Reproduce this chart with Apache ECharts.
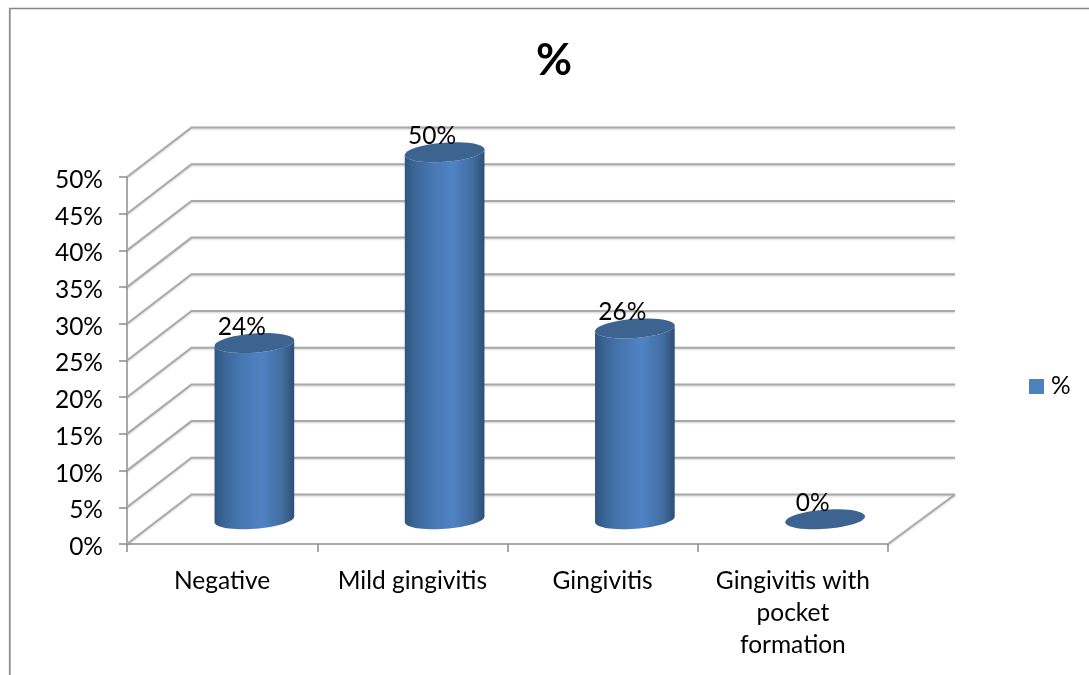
<!DOCTYPE html>
<html>
<head>
<meta charset="utf-8">
<style>html,body{margin:0;padding:0;background:#fff}#chart{width:1089px;height:675px}</style>
<script src="https://cdn.jsdelivr.net/npm/echarts@6/dist/echarts.min.js"></script>
</head>
<body>
<div id="chart"></div>
<script>
// Gingivitis status distribution, drawn as a pseudo-3D cylinder column chart.
const chartTitle = '%';
const seriesName = '%';
const categories = ['Negative', 'Mild gingivitis', 'Gingivitis', 'Gingivitis with\npocket\nformation'];
const percentValues = [24, 50, 26, 0];
const gridTicks = [0, 5, 10, 15, 20, 25, 30, 35, 40, 45, 50];

// Oblique projection of the box: how far the back wall sits from the front plane.
const depthX = 64.5;
const depthY = -49.5;
const backWallOverhang = 2.5;
const fontFamily = 'Lato';
const labelSize = 24.5;
const gridColor = '#a9a9a9';

// Outline of a slightly tilted ellipse at parameter t.
function ellipsePoint(cx, cy, a, b, t) {
  const tilt = -0.075;
  const x = a * Math.cos(t), y = b * Math.sin(t);
  return [cx + x * Math.cos(tilt) - y * Math.sin(tilt), cy + x * Math.sin(tilt) + y * Math.cos(tilt)];
}

function ellipseArc(cx, cy, a, b, from, to, n) {
  const pts = [];
  for (let i = 0; i <= n; i++) pts.push(ellipsePoint(cx, cy, a, b, from + (to - from) * i / n));
  return pts;
}

// Side wall and back wall rules for one value tick.
function renderWallLine(params, api) {
  const sys = params.coordSys;
  const y = api.coord([0, api.value(1)])[1];
  const right = sys.x + sys.width + depthX + backWallOverhang;
  const style = { stroke: gridColor, lineWidth: 2, fill: null, shadowBlur: 2, shadowColor: 'rgba(0,0,0,0.18)', shadowOffsetY: 1 };
  const children = [{
    type: 'polyline',
    shape: { points: [[sys.x, y], [sys.x + depthX, y + depthY], [right, y + depthY]] },
    style
  }];
  if (api.value(1) === 0) {
    children.push({
      type: 'line',
      shape: { x1: sys.x + sys.width, y1: y, x2: right, y2: y + depthY },
      style
    });
  }
  return { type: 'group', silent: true, children };
}

// One cylinder standing in the middle of the floor's depth.
function renderCylinder(params, api) {
  const value = api.value(1);
  const band = api.size([1, 0])[0];
  const a = band * 0.21;
  const b = a * 0.24;
  const front = api.coord([api.value(0), 0]);
  const cx = front[0] + depthX / 2;
  const baseY = front[1] + depthY / 2;
  const topY = api.coord([api.value(0), value])[1] + depthY / 2;

  const body = [].concat(
    ellipseArc(cx, topY, a, b, Math.PI, 0, 24),
    ellipseArc(cx, baseY, a, b, 0, Math.PI, 32)
  );
  const fill = {
    type: 'linear', x: 0, y: 0, x2: 1, y2: 0,
    colorStops: [
      { offset: 0, color: '#2f5580' },
      { offset: 0.12, color: '#3b6597' },
      { offset: 0.35, color: '#4878b3' },
      { offset: 0.6, color: '#5083c5' },
      { offset: 0.85, color: '#416d9f' },
      { offset: 1, color: '#2e4f76' }
    ]
  };
  return {
    type: 'group',
    children: [
      { type: 'polygon', shape: { points: body }, style: { fill } },
      { type: 'polygon', shape: { points: ellipseArc(cx, topY, a, b, 0, Math.PI * 2, 48) }, style: { fill: '#3d6491' } },
      {
        type: 'text',
        style: {
          text: value + '%', x: cx - 12.5, y: topY - 16,
          align: 'center', verticalAlign: 'middle',
          font: labelSize + 'px ' + fontFamily, fill: '#000'
        }
      }
    ]
  };
}

const chart = echarts.init(document.getElementById('chart'), null, { renderer: 'canvas' });
chart.setOption({
  animation: false,
  backgroundColor: '#ffffff',
  title: {
    text: chartTitle,
    left: 549, top: 34, textAlign: 'center',
    textStyle: { fontFamily, fontSize: 44, fontWeight: 'bold', color: '#000' }
  },
  legend: {
    data: [seriesName],
    left: 1024, top: 369,
    icon: 'rect', itemWidth: 15, itemHeight: 15, itemGap: 0,
    textStyle: { fontFamily, fontSize: labelSize, color: '#000', padding: [0, 0, 0, 2] }
  },
  grid: { left: 127, right: 201, top: 177, bottom: 131 },
  xAxis: {
    type: 'category',
    data: categories,
    axisLine: { lineStyle: { color: gridColor, width: 2 } },
    axisTick: { show: true, length: 8, alignWithLabel: false, lineStyle: { color: '#8c8c8c', width: 1.5 } },
    axisLabel: { margin: 21, interval: 0, fontFamily, fontSize: labelSize, color: '#000', lineHeight: 32 }
  },
  yAxis: {
    type: 'value',
    min: 0, max: 50, interval: 5,
    splitLine: { show: false },
    axisLine: { show: true, lineStyle: { color: gridColor, width: 2 } },
    axisTick: { show: true, length: 8, lineStyle: { color: '#8c8c8c', width: 1.5 } },
    axisLabel: { margin: 24, fontFamily, fontSize: labelSize, color: '#000', formatter: '{value}%', verticalAlign: 'top', lineHeight: 6 }
  },
  series: [
    {
      name: 'wall',
      type: 'custom',
      z: 1,
      silent: true,
      encode: { x: 0, y: 1 },
      data: gridTicks.map(t => [0, t]),
      renderItem: renderWallLine
    },
    {
      name: seriesName,
      type: 'custom',
      z: 3,
      itemStyle: { color: '#4f81bd' },
      encode: { x: 0, y: 1 },
      data: percentValues.map((v, i) => [i, v]),
      renderItem: renderCylinder
    }
  ],
  graphic: [
    { type: 'line', silent: true, shape: { x1: 9, y1: 8.5, x2: 1089, y2: 8.5 }, style: { stroke: '#858585', lineWidth: 1.5 } },
    { type: 'line', silent: true, shape: { x1: 9.8, y1: 8, x2: 9.8, y2: 675 }, style: { stroke: '#8e8e8e', lineWidth: 1.8 } }
  ]
});
</script>
</body>
</html>
